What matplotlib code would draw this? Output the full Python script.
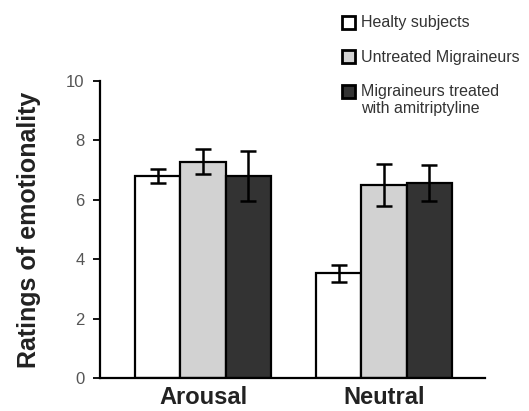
import matplotlib.pyplot as plt
from matplotlib.patches import Rectangle
import numpy as np

plt.rcParams['font.family'] = ['Liberation Sans', 'DejaVu Sans']

categories = ['Arousal', 'Neutral']
groups = ['Healty subjects', 'Untreated Migraineurs',
          'Migraineurs treated\nwith amitriptyline']
means = [[6.8, 3.52],
         [7.28, 6.5],
         [6.8, 6.56]]
errs = [[0.25, 0.3],
        [0.42, 0.7],
        [0.84, 0.6]]
colors = ['white', '#d2d2d2', '#333333']

W, H = 529, 411
fig = plt.figure(figsize=(W / 100, H / 100), dpi=100)
ax = fig.add_axes([100 / W, 33 / H, 385 / W, 297 / H])

x = np.arange(len(categories))
w = 0.251
for i in range(3):
    ax.bar(x + (i - 1) * w, means[i], w, yerr=errs[i], color=colors[i],
           edgecolor='black', linewidth=1.6, label=groups[i],
           error_kw=dict(ecolor='black', elinewidth=1.8, capsize=5.5, capthick=1.8))

ax.set_xlim(-0.569, 1.558)
ax.set_ylim(0, 10)
ax.set_yticks([0, 2, 4, 6, 8, 10])
ax.set_xticks(x)
ax.set_xticklabels(categories, fontsize=17, fontweight='bold', color='#222222')
ax.tick_params(axis='x', length=0, pad=6)
ax.tick_params(axis='y', length=5, width=1.3, labelsize=12, labelcolor='#555555', pad=6)
for s in ['top', 'right']:
    ax.spines[s].set_visible(False)
for s in ['left', 'bottom']:
    ax.spines[s].set_linewidth(1.6)
ax.set_ylabel('Ratings of emotionality', fontsize=18, fontweight='bold',
              color='#222222', va='center')
ax.yaxis.set_label_coords(-71 / 385, 0.5)

# legend drawn by hand so the square sits on the first text line
legend_y = [22, 57, 91]
for i in range(3):
    yc = 1 - legend_y[i] / H
    fig.patches.append(Rectangle((342 / W, yc - 6.5 / H), 13 / W, 13 / H,
                                 transform=fig.transFigure, facecolor=colors[i],
                                 edgecolor='black', linewidth=2))
    fig.text(361 / W, 1 - (legend_y[i] - 7) / H, groups[i], fontsize=11.5,
             color='#333333', va='top', ha='left', linespacing=1.15)

fig.savefig('out.png')
